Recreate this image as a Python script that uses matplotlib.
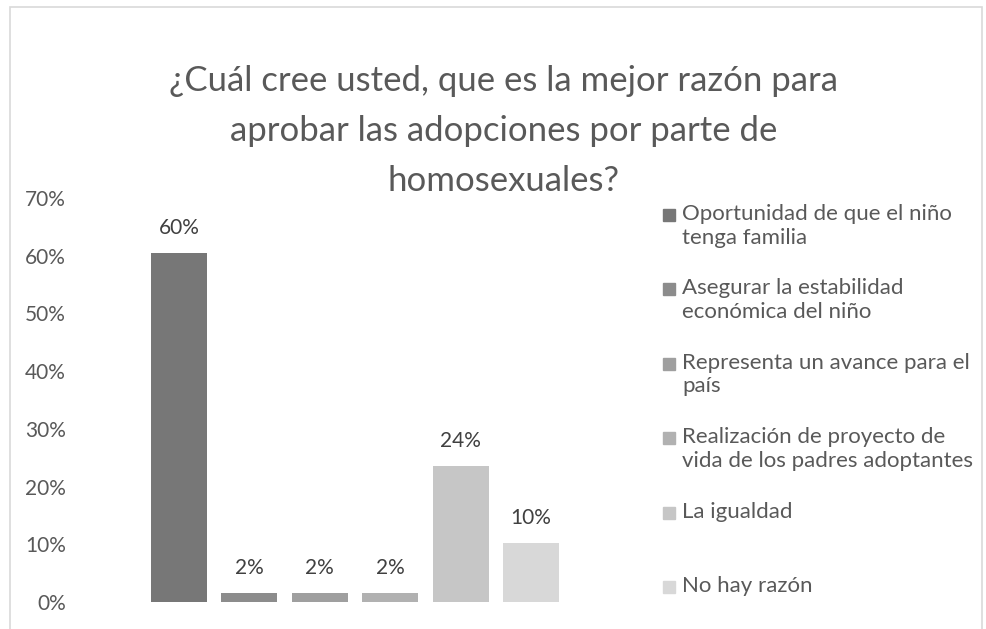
import matplotlib.pyplot as plt
import matplotlib.patches as mpatches
from matplotlib.ticker import PercentFormatter

plt.rcParams['font.family'] = ['Lato', 'DejaVu Sans']

titulo = '¿Cuál cree usted, que es la mejor razón para\naprobar las adopciones por parte de\nhomosexuales?'
razones = ['Oportunidad de que el niño\ntenga familia',
           'Asegurar la estabilidad\neconómica del niño',
           'Representa un avance para el\npaís',
           'Realización de proyecto de\nvida de los padres adoptantes',
           'La igualdad',
           'No hay razón']
valores = [0.605, 0.016, 0.016, 0.016, 0.236, 0.102]
etiquetas = ['60%', '2%', '2%', '2%', '24%', '10%']
colores = ['#777777', '#8c8c8c', '#9f9f9f', '#b1b1b1', '#c6c6c6', '#d8d8d8']

W, H = 987, 629
fig = plt.figure(figsize=(W / 100, H / 100), dpi=100)

# marco gris claro del grafico
fig.patches.append(mpatches.Rectangle((10 / W, -0.05), 972 / W, 1.05 - 7 / H,
                                      transform=fig.transFigure, fill=False,
                                      edgecolor='#d9d9d9', lw=1.2))

ax = fig.add_axes([116 / W, 27 / H, 478 / W, 404 / H])
x = list(range(len(valores)))
bars = ax.bar(x, valores, width=0.795, color=colores)
for b, lab in zip(bars, etiquetas):
    ax.annotate(lab, (b.get_x() + b.get_width() / 2, b.get_height()),
                xytext=(0, 18), textcoords='offset points',
                ha='center', va='center', fontsize=15, color='#404040')

ax.set_xlim(-0.895, 5.895)
ax.set_ylim(0, 0.7)
ax.set_yticks([i / 10 for i in range(8)])
ax.yaxis.set_major_formatter(PercentFormatter(1.0, decimals=0))
ax.set_xticks([])
ax.tick_params(axis='y', length=0, pad=36, labelsize=15, labelcolor='#595959')
for s in ax.spines.values():
    s.set_visible(False)

fig.text(504 / W, 1 - 131 / H, titulo, ha='center', va='center',
         fontsize=25, color='#595959', linespacing=1.68)

# leyenda dibujada a mano
for i, (r, c) in enumerate(zip(razones, colores)):
    yc = 215 + 74.4 * i
    fig.patches.append(mpatches.Rectangle((663 / W, 1 - (yc + 6) / H), 12 / W, 12 / H,
                                          transform=fig.transFigure, color=c))
    fig.text(682 / W, 1 - (yc - 11) / H, r, ha='left', va='top',
             fontsize=16, color='#595959', linespacing=1.23)

fig.savefig('out.png', dpi=100)
